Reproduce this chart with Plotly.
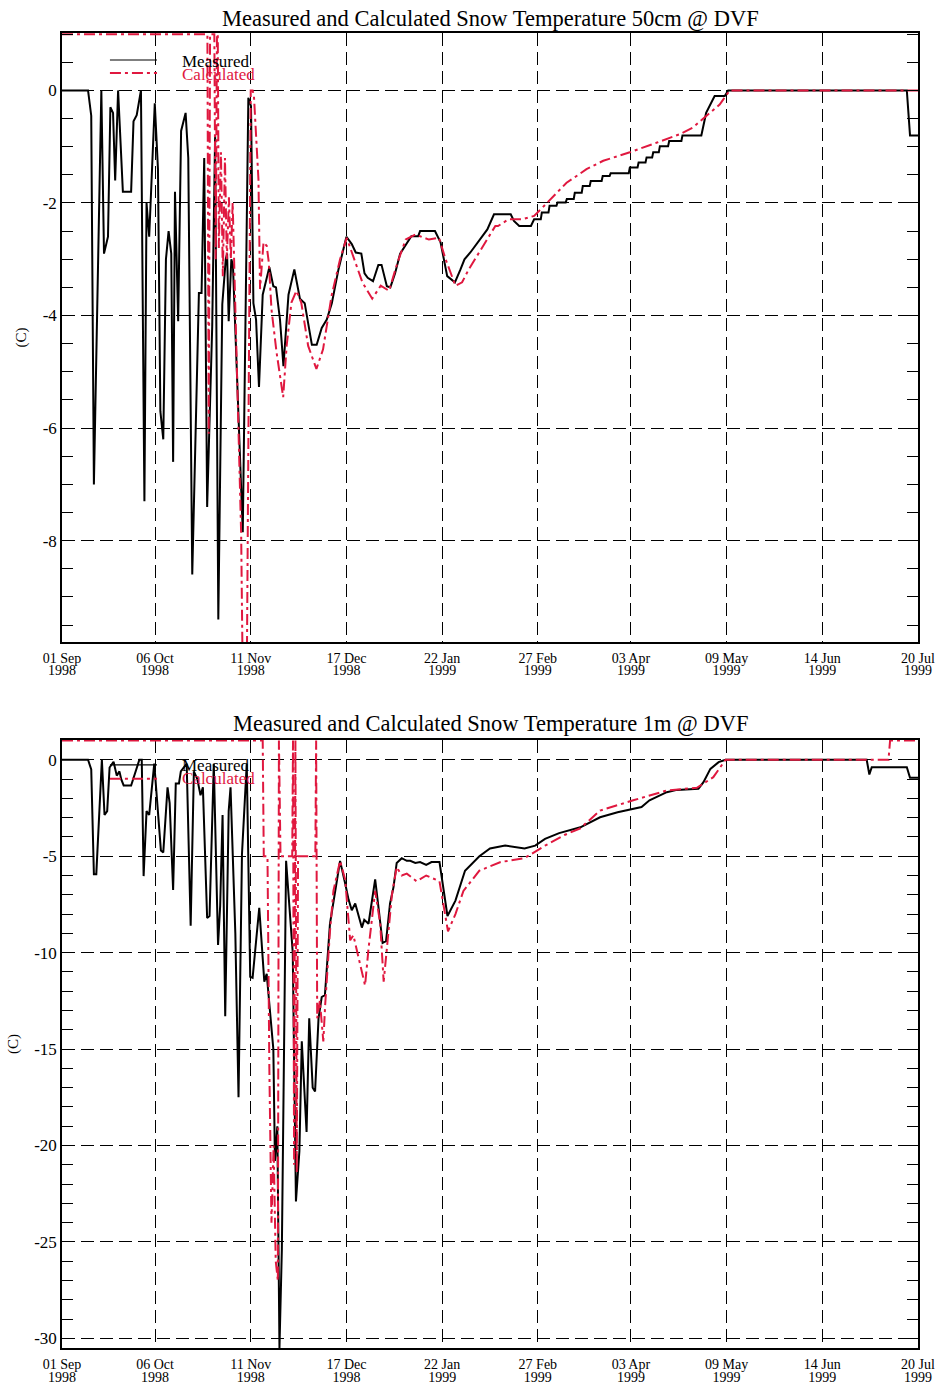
import pandas as pd
import plotly.graph_objects as go

START = "1998-09-01"

# ---------------- data (day offset from 01 Sep 1998, temperature C) ----------------
top_meas_day = [0, 9.8, 11, 12, 14.8, 15.8, 17.3, 18.2, 19.2, 20, 21.1, 22.9, 26, 26.9, 28.1, 29.7, 31, 31.8, 32.8,
                34.9, 36.1, 37, 38.1, 39.1, 40.1, 41.1, 41.8, 42.5, 43.7, 44.8, 46.5, 47.5, 49, 51.5, 52.5, 53.5, 54.6,
                56.5, 57.6, 58.8, 60.3, 61.6, 62.1, 62.7, 63.7, 64.3, 68, 70.1, 71.1, 72, 73, 74.1, 75.5, 78, 79.5,
                80.5, 82, 83.3, 85.2, 87.4, 89.5, 91.3, 94, 95.8, 97.7, 99.6, 101.5, 104, 107, 109, 110.5, 112.6,
                113.8, 115, 117, 119, 120.2, 122.2, 123.5, 125.3, 127.2, 129, 131.4, 134, 134.7, 140.3, 142.4, 144.9,
                147.8, 149.9, 151.4, 153.6, 155, 156.2, 158, 160, 162.5, 168.8, 170, 172, 176.4, 177.6, 180.1, 180.5,
                183, 183.4, 186, 186.4, 189.5, 189.9, 192.5, 192.9, 195.5, 195.9, 198.5, 198.9, 203, 203.4, 206,
                206.4, 213.2, 213.6, 216.5, 216.9, 219.5, 219.9, 222, 222.4, 224.5, 224.9, 228, 228.4, 233, 233.4,
                240.5, 242.3, 245.5, 249.3, 250.6, 317.8, 319, 322]
top_meas_val = [0, 0, -0.45, -7.0, 0, -2.9, -2.6, -0.3, -0.4, -1.6, 0, -1.8, -1.8, -0.55, -0.44, 0, -7.3, -2.0, -2.6,
                -0.23, -1.4, -5.7, -6.2, -3.0, -2.5, -2.9, -6.6, -1.8, -4.1, -0.72, -0.4, -1.2, -8.6, -3.6, -3.6, -1.2,
                -7.4, -4.2, -0.8, -9.4, -3.8, -3.0, -2.9, -4.1, -3.0, -3.1, -7.85, -0.13, -0.28, -3.78, -4.07, -5.27,
                -3.63, -3.14, -3.48, -3.5, -4.07, -4.9, -3.63, -3.18, -3.7, -3.78, -4.52, -4.52, -4.22, -4.07, -3.78,
                -3.18, -2.6, -2.73, -2.88, -2.9, -3.25, -3.33, -3.39, -3.1, -3.1, -3.48, -3.5, -3.25, -2.9, -2.76,
                -2.59, -2.59, -2.5, -2.5, -2.7, -3.3, -3.41, -3.18, -3.0, -2.88, -2.79, -2.7, -2.59, -2.47, -2.2, -2.2,
                -2.32, -2.41, -2.41, -2.29, -2.29, -2.17,
                -2.17, -2.05, -2.05, -1.99, -1.99, -1.93, -1.93, -1.82, -1.82, -1.7, -1.7, -1.61, -1.61, -1.52, -1.52,
                -1.47, -1.47, -1.37, -1.37, -1.28, -1.28, -1.19, -1.19, -1.1, -1.1, -0.99, -0.99, -0.9, -0.9, -0.8,
                -0.8, -0.4, -0.1, -0.1, 0, 0, -0.8, -0.8]

top_calc_day = [0, 54.7, 55.2, 55.7, 57.3, 57.8, 58.3, 58.6, 59, 59.8, 60.5, 61.3, 62, 62.8, 63.5, 64.2, 65, 66.5,
                67.4, 68, 69.5, 71, 71.7, 72.2, 73.9, 74.5, 75.8, 77, 77.8, 78.8, 80.7, 83.2, 84.5, 86.3, 88.2, 90,
                92.6, 95.7, 98.2, 101.4, 104.6, 107.1, 109.6, 113, 116.7, 119.9, 123, 126.2, 129.3, 133, 138, 141.8,
                144.3, 148, 150.5, 153, 156.9, 163, 164, 168, 173, 177.6, 181.4, 184.8, 189.8, 193.6, 197.3, 203.6,
                213.6, 223.6, 232.3, 237.3, 242.3, 247.4, 251.2, 322]
top_calc_val = [1, 1, -6.1, 1, 1, -3.0, 1, 1, -2.8, -1.1, -3.3, -1.2, -3.0, -1.9, -3.0, -2.0, -3.5, -6.5,
                -7.9, -10.5, -10.5, 0, 0, -0.1, -1.58, -3.53, -2.7, -2.76, -3.06, -3.89, -4.65, -5.45, -4.54, -3.77,
                -3.56, -3.77, -4.54, -4.95, -4.6, -3.65, -3.0, -2.62, -2.94, -3.41, -3.7, -3.47, -3.56, -3.06, -2.65,
                -2.56, -2.65, -2.62, -3.0, -3.47, -3.41, -3.18, -2.88, -2.41, -2.41, -2.29, -2.29, -2.23, -2.05, -1.88,
                -1.64, -1.52, -1.4, -1.25, -1.1, -0.93, -0.78, -0.66, -0.46, -0.25, 0, 0]

bot_meas_day = [0, 9.8, 11, 12, 12.9, 15, 16, 17, 17.9, 19.4, 20.6, 21.6, 22.3, 23.2, 26, 27.2, 29.1, 30, 30.7,
                31.8, 32.8, 34.7, 36.1, 37.2, 38.1, 39.7, 40.5, 41.8, 42.8, 44.0, 44.7, 46.9, 48.4, 49.6, 50.9, 52.1,
                53, 54.6, 55.5, 57.1, 58.7, 59.5, 60.4, 61.4, 62.7, 63.4, 65.2, 66.4, 67.7, 69.5, 70.8, 71.7, 74.2,
                76.1, 77, 79.5, 80.1, 81, 81.8, 82.7, 84.3, 85.8, 86.8, 88, 89.3, 90.2, 92, 93, 94.3, 95.2, 96.5,
                97.7, 98.9, 100.8, 102.7, 104.6, 106.5, 107.8, 109, 110.3, 112.8, 113.7, 115.3, 117.8, 119.1, 120.6,
                121.9, 123.4, 124.7, 125.9, 127.8, 129.7, 131, 132.9, 134.7, 137, 139, 142, 145, 148, 151.6, 157,
                161, 166.7, 174, 178, 181.7, 187, 195, 202.4, 209, 214.3, 218, 221, 227.5, 231.3, 239.4, 241.3,
                243.9, 247, 249.6, 302.7, 303.7, 304.6, 317.8, 319, 322]
bot_meas_val = [0, 0, -0.5, -5.93, -5.93, 0, -2.86, -2.66, -0.4, -0.1, -0.82, -0.6, -1.02, -1.33, -1.33, -0.82, 0, 0,
                -6.03, -2.66, -2.86, -0.2, -2.86, -4.7, -4.8, -1.43, -2.25, -6.75, -1.23, -1.23, -0.6, -0.2, -8.6,
                -0.6, -1.0, -1.84, -1.43, -8.2, -8.1, -0.2, -9.6, -7.57, -2.86, -13.3, -2.66, -1.43, -9.0, -17.5,
                -4.9, -0.2, -11.25, -11.3, -7.67, -11.5, -11.1, -15.0, -20.8, -19.0, -30.5, -25.4, -5.24, -8.1, -10,
                -22.9, -20.3, -14.6, -19.3, -13.4, -17.0, -17.2, -13.4, -12.3, -12.2, -8.5, -6.8, -5.24, -6.4, -7.25,
                -7.8, -7.45, -8.7, -8.3, -8.5, -6.2, -7.7, -9.5, -9.4, -7.45, -6.6, -5.35, -5.1, -5.24, -5.24, -5.35,
                -5.3, -5.45, -5.3, -5.3, -8.1, -7.3, -5.75, -5.0, -4.6, -4.45, -4.6, -4.45, -4.1, -3.8, -3.5, -2.98,
                -2.72, -2.54, -2.45, -2.1, -1.68, -1.56, -1.5, -1.16, -0.47, -0.12, 0, 0, -0.76, -0.38, -0.38, -0.93,
                -0.93]

bot_calc_day = [0, 75.5, 75.9, 77.3, 78, 78.8, 79.6, 80.4, 81.2, 81.6, 82.2, 86.6, 86.9, 87.3, 87.8, 88.3, 88.8,
                95.3, 95.6, 96, 97, 98.3, 99, 100.8, 102.1, 104.6, 106.5, 108.4, 109.6, 112.1, 114, 115.3, 117.8,
                119.7, 121, 122.2, 124.1, 125.9, 127.8, 129.7, 131.6, 133.4, 137, 142, 145.2, 148, 151, 157, 165,
                174, 181.7, 189, 195, 202.4, 214.9, 227.5, 238.8, 245, 249.6, 310.9, 311.5, 322]
bot_calc_val = [1, 1, -5, -5, -16, -24, -20, -26, -27, 1, -5, -5, 1, -21, 1, -21.4, -5,
                -5, 1, -13.4, -12.5, -14.6, -12.7, -8.9, -6.8, -5.24, -6.2, -9.36, -9.1, -10.6, -11.7, -9.8, -6.8,
                -8.5, -11.5, -9.8, -7.0, -5.56, -6.0, -5.9, -6.1, -6.3, -6.0, -6.3, -8.9, -8.0, -6.8, -5.75, -5.3,
                -5.1, -4.45, -3.9, -3.55, -2.63, -2.1, -1.59, -1.45, -0.9, 0, 0, 1, 1]

tick_days = [0, 35, 71, 107, 143, 179, 214, 250, 286, 322]
tick_lines = [("01 Sep", "1998"), ("06 Oct", "1998"), ("11 Nov", "1998"), ("17 Dec", "1998"), ("22 Jan", "1999"),
              ("27 Feb", "1999"), ("03 Apr", "1999"), ("09 May", "1999"), ("14 Jun", "1999"), ("20 Jul", "1999")]

top_yticks = [0, -2, -4, -6, -8]
bot_yticks = [0, -5, -10, -15, -20, -25, -30]

titles = ["Measured and Calculated Snow Temperature 50cm @ DVF",
          "Measured and Calculated Snow Temperature 1m @ DVF"]

# ---------------- helpers ----------------
t0 = pd.Timestamp(START)


def to_dates(days):
    return [t0 + pd.Timedelta(days=d) for d in days]


FONT = "Liberation Serif, Times New Roman, serif"
RED = "#E0183F"
DASHDOT = "11px,4px,3px,4px"
GRIDDASH = "13px,6px"

fig = go.Figure()
fig.add_trace(go.Scatter(x=to_dates(top_meas_day), y=top_meas_val, mode="lines", name="Measured",
                         line=dict(color="black", width=2), xaxis="x", yaxis="y"))
fig.add_trace(go.Scatter(x=to_dates(top_calc_day), y=top_calc_val, mode="lines", name="Calculated",
                         line=dict(color=RED, width=2, dash=DASHDOT), xaxis="x", yaxis="y"))
fig.add_trace(go.Scatter(x=to_dates(bot_meas_day), y=bot_meas_val, mode="lines", name="Measured",
                         line=dict(color="black", width=2), xaxis="x2", yaxis="y2"))
fig.add_trace(go.Scatter(x=to_dates(bot_calc_day), y=bot_calc_val, mode="lines", name="Calculated",
                         line=dict(color=RED, width=2, dash=DASHDOT), xaxis="x2", yaxis="y2"))

tickvals = to_dates(tick_days)
span = "<span style='font-size:14px'>%s</span>"
tick_text = [span % a + "<br>" + span % b for a, b in tick_lines]

xcommon = dict(type="date", range=[tickvals[0], tickvals[-1]], tickvals=tickvals, ticktext=tick_text,
               showgrid=True, gridcolor="black", gridwidth=1, griddash=GRIDDASH,
               showline=True, linecolor="black", linewidth=1.5, mirror=True, ticks="",
               tickfont=dict(family=FONT, size=9.5, color="black"), zeroline=False, automargin=False,
               ticklabelstandoff=8)
ycommon = dict(showgrid=True, gridcolor="black", gridwidth=1, griddash=GRIDDASH,
               showline=True, linecolor="black", linewidth=1.5, mirror="ticks", ticks="inside",
               ticklen=11, tickcolor="black", tickwidth=1, zeroline=False, automargin=False,
               tickmode="array",
               tickfont=dict(family=FONT, size=17, color="black"),
               title=dict(text="(C)", font=dict(family=FONT, size=15, color="black"), standoff=12))

fig.update_layout(
    width=938, height=1383,
    margin=dict(l=62, r=20, t=33, b=35),
    paper_bgcolor="white", plot_bgcolor="white",
    showlegend=False,
    xaxis=dict(xcommon, anchor="y"),
    yaxis=dict(ycommon, domain=[0.5369, 1], range=[-9.8, 1.02],
               tickvals=top_yticks, ticktext=[str(v) for v in top_yticks],
               minor=dict(tickmode="linear", tick0=0, dtick=0.5, ticks="inside", ticklen=11,
                          tickcolor="black", showgrid=False), anchor="x"),
    xaxis2=dict(xcommon, anchor="y2"),
    yaxis2=dict(ycommon, domain=[0, 0.4624], range=[-30.5, 1.03],
                tickvals=bot_yticks, ticktext=[str(v) for v in bot_yticks],
                minor=dict(tickmode="linear", tick0=0, dtick=1, ticks="inside", ticklen=11,
                           tickcolor="black", showgrid=False), anchor="x2"),
)

# titles
for ttl, ypix in zip(titles, [19, 723]):
    fig.add_annotation(text=ttl, xref="paper", yref="paper", x=0.5, y=1 - (ypix - 33) / 1315,
                       showarrow=False, font=dict(family=FONT, size=22.5, color="black"),
                       xanchor="center", yanchor="middle")

# manual legends (text overlaps as in the original figure)
for xr, yr, ym, yc, tm, tc in [("x domain", "y domain", 0.9557, 0.9343, 0.953, 0.932),
                               ("x2 domain", "y2 domain", 0.959, 0.936, 0.958, 0.936)]:
    fig.add_shape(type="line", xref=xr, yref=yr, x0=0.056, x1=0.111, y0=ym, y1=ym,
                  line=dict(color="black", width=1.2))
    fig.add_shape(type="line", xref=xr, yref=yr, x0=0.056, x1=0.111, y0=yc, y1=yc,
                  line=dict(color=RED, width=2, dash=DASHDOT))
    fig.add_annotation(text="Measured", xref=xr, yref=yr, x=0.138, y=tm, showarrow=False,
                       xanchor="left", yanchor="middle", font=dict(family=FONT, size=17, color="black"))
    fig.add_annotation(text="Calculated", xref=xr, yref=yr, x=0.138, y=tc, showarrow=False,
                       xanchor="left", yanchor="middle", font=dict(family=FONT, size=17, color=RED))

# remove the default 8px page margin so the figure fills the window exactly; hide the modebar
fig.write_html("out.html", config={"displayModeBar": False},
               post_script="document.body.style.margin='0';document.body.style.overflow='hidden';")
